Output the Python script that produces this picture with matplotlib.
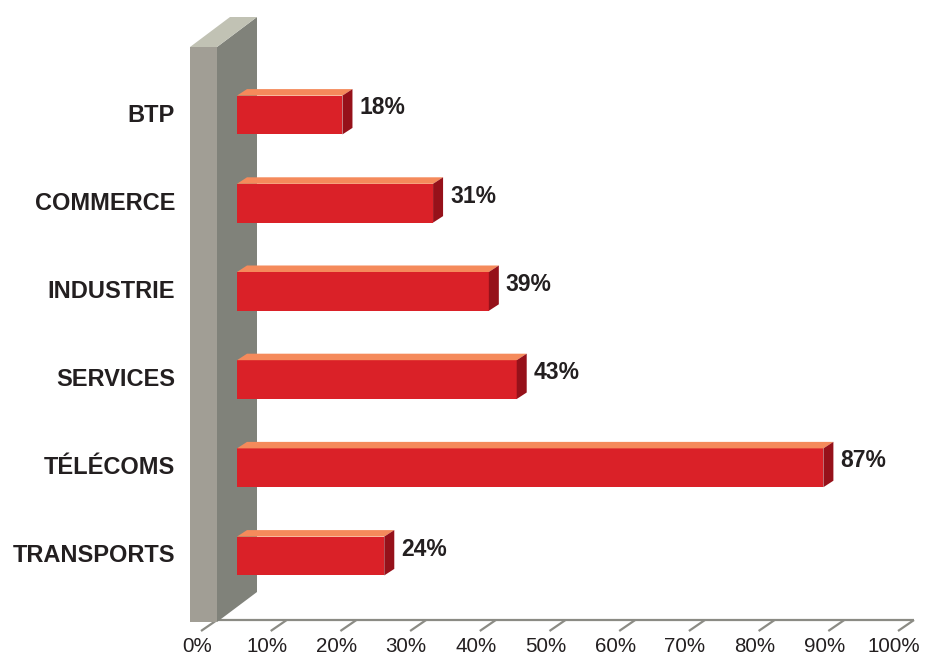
import matplotlib
matplotlib.use("Agg")
import matplotlib.pyplot as plt
from matplotlib.patches import Polygon

# Data
categories = ["BTP", "COMMERCE", "INDUSTRIE", "SERVICES", "TÉLÉCOMS", "TRANSPORTS"]
values = [18, 31, 39, 43, 87, 24]
ticks = [0, 10, 20, 30, 40, 50, 60, 70, 80, 90, 100]
tick_labels = [f"{t}%" for t in ticks]

plt.rcParams["font.family"] = ["Liberation Sans", "DejaVu Sans"]

W, H = 933, 657
fig = plt.figure(figsize=(W / 100, H / 100), dpi=100)
ax = fig.add_axes([0, 0, 1, 1])

# Scale: percent along x, category index along y (inverted)
PX_PER_PCT = 6.97
X0_PX = 217
ROW_PX = 88.2
Y0_PX = 115
ax.set_xlim(-X0_PX / PX_PER_PCT, (W - X0_PX) / PX_PER_PCT)
ax.set_ylim((H - Y0_PX) / ROW_PX, -Y0_PX / ROW_PX)
ax.axis("off")


def off(dx, dy):
    """Screen-pixel offset expressed in data units."""
    return dx / PX_PER_PCT, dy / ROW_PX


TEXT = "#231f20"
BAR_FRONT = "#da2128"
BAR_TOP = "#f58a5b"
BAR_SIDE = "#96111a"
WALL_FRONT = "#a19e95"
WALL_SIDE = "#80827a"
WALL_TOP = "#c1c2b4"
AXIS = "#8b8b84"

# Side wall (3-D block on the left)
wx0, _ = off(-27, 0)
wy_top = (47 - Y0_PX) / ROW_PX
wy_bot = (622 - Y0_PX) / ROW_PX
wdx, wdy = off(40, -30)
ax.add_patch(Polygon([(wx0, wy_top), (0, wy_top), (0, wy_bot), (wx0, wy_bot)],
                     closed=True, fc=WALL_FRONT, ec="none", zorder=2))
ax.add_patch(Polygon([(0, wy_top), (wdx, wy_top + wdy), (wdx, wy_bot + wdy), (0, wy_bot)],
                     closed=True, fc=WALL_SIDE, ec="none", zorder=2))
ax.add_patch(Polygon([(wx0, wy_top), (0, wy_top), (wdx, wy_top + wdy), (wx0 + wdx, wy_top + wdy)],
                     closed=True, fc=WALL_TOP, ec="none", zorder=2))

# Floor axis with slanted ticks
y_axis = (620 - Y0_PX) / ROW_PX
ax.plot([0, ticks[-1]], [y_axis, y_axis], color=AXIS, lw=1.6,
        solid_capstyle="butt", zorder=1)
tdx, tdy = off(-16, 11)
for t, lab in zip(ticks, tick_labels):
    ax.plot([t, t + tdx], [y_axis, y_axis + tdy], color=AXIS, lw=1.6,
            solid_capstyle="butt", zorder=1)
    lx, _ = off(-4, 0)
    ax.text(t + tdx + lx, (647 - Y0_PX) / ROW_PX, lab, ha="center", va="center",
            fontsize=14.8, color=TEXT)

# 3-D bars
half = 0.22
base, _ = off(20, 0)
bdx, bdy = off(10, -6.5)
for i, (cat, v) in enumerate(zip(categories, values)):
    top, bot = i - half, i + half
    ax.add_patch(Polygon([(base, top), (v, top), (v, bot), (base, bot)],
                         closed=True, fc=BAR_FRONT, ec="none", zorder=3))
    ax.add_patch(Polygon([(base, top), (base + bdx, top + bdy), (v + bdx, top + bdy), (v, top)],
                         closed=True, fc=BAR_TOP, ec="none", zorder=3))
    ax.add_patch(Polygon([(v, top), (v + bdx, top + bdy), (v + bdx, bot + bdy), (v, bot)],
                         closed=True, fc=BAR_SIDE, ec="none", zorder=3))
    vx, vy = off(17, -7)
    ax.text(v + vx, i + vy, f"{v}%", ha="left", va="center",
            fontsize=16.5, fontweight="bold", color=TEXT, zorder=4)
    cx, _ = off(175 - X0_PX, 0)
    ax.text(cx, i, cat, ha="right", va="center",
            fontsize=17, fontweight="bold", color=TEXT, zorder=4)

fig.savefig("out.png", dpi=100, facecolor="white")
